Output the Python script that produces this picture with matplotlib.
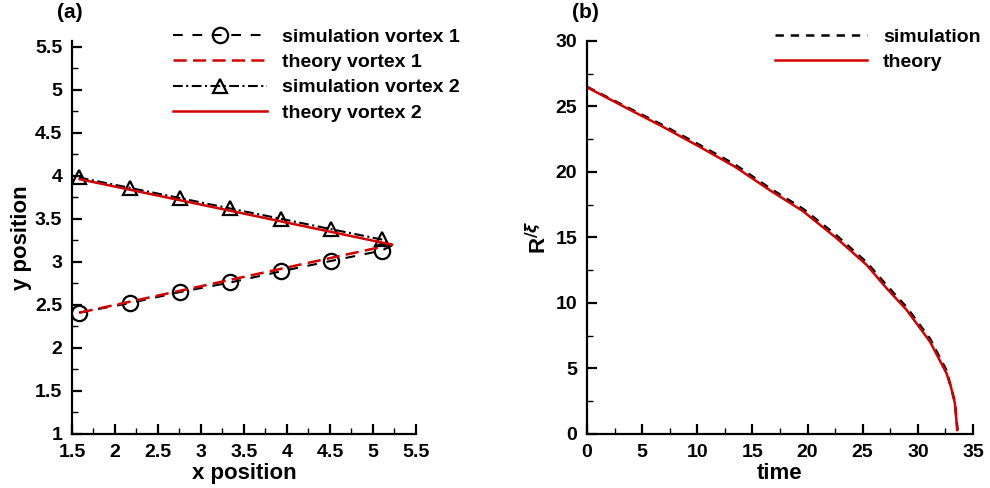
import matplotlib
matplotlib.use("Agg")
import matplotlib.pyplot as plt
from matplotlib.ticker import MultipleLocator

plt.rcParams['font.family'] = ['Liberation Sans', 'DejaVu Sans']
plt.rcParams['font.weight'] = 'bold'
plt.rcParams['lines.scale_dashes'] = False

# (a) vortex positions
sim1_x = [1.58, 2.17, 2.76, 3.34, 3.93, 4.51, 5.10, 5.22]
sim1_y = [2.41, 2.52, 2.65, 2.76, 2.89, 3.01, 3.13, 3.19]
sim2_x = [1.58, 2.17, 2.76, 3.34, 3.93, 4.51, 5.10, 5.22]
sim2_y = [3.98, 3.86, 3.74, 3.62, 3.50, 3.38, 3.26, 3.20]
th1_x = [1.59, 5.22]
th1_y = [2.41, 3.20]
th2_x = [1.59, 5.22]
th2_y = [3.96, 3.20]

# (b) ring radius vs time
sim_t = [0, 3.45, 6.77, 10.09, 13.42, 16.6, 19.6, 22.64, 25.36, 27.17, 28.98, 31.1, 32.6, 33.36, 33.6]
sim_R = [26.5, 25.02, 23.62, 22.12, 20.57, 18.75, 17.18, 15.15, 13.1, 11.35, 9.68, 7.28, 4.85, 2.45, 0.3]
th_t = [0, 3.45, 6.77, 10.09, 13.42, 16.6, 19.6, 22.64, 25.36, 27.17, 28.98, 31.1, 32.6, 33.0, 33.36, 33.57]
th_R = [26.47, 24.94, 23.5, 21.98, 20.4, 18.6, 17.0, 14.94, 12.9, 11.12, 9.47, 7.05, 4.63, 3.6, 2.34, 0.3]

red = '#d40000'

fig = plt.figure(figsize=(9.9, 4.88), dpi=100)
ax1 = fig.add_axes([0.0727, 0.1107, 0.3475, 0.806])
ax2 = fig.add_axes([0.5929, 0.1107, 0.3899, 0.8053])

ax1.plot(sim1_x, sim1_y, color='black', ls=(0, (7, 7)), lw=1.5, marker='o', ms=11,
         mfc='none', mec='black', mew=1.6, markevery=list(range(7)), label='simulation vortex 1')
ax1.plot(th1_x, th1_y, color=red, ls=(0, (9.5, 4.5)), lw=1.8, label='theory vortex 1')
ax1.plot(sim2_x, sim2_y, color='black', ls=(0, (7, 2.5, 1.5, 2.5)), lw=1.5, marker='^', ms=10,
         mfc='none', mec='black', mew=1.6, markevery=list(range(7)), label='simulation vortex 2')
ax1.plot(th2_x, th2_y, color=red, ls='-', lw=1.8, label='theory vortex 2')

ax2.plot(sim_t, sim_R, color='black', ls=(0, (6, 5)), lw=1.8, label='simulation')
ax2.plot(th_t, th_R, color=red, ls='-', lw=1.8, label='theory')

ax1.set_xlim(1.5, 5.5)
ax1.set_ylim(1, 5.57)
ax1.xaxis.set_minor_locator(MultipleLocator(0.25))
ax1.yaxis.set_minor_locator(MultipleLocator(0.25))
ax1.set_yticks([1, 1.5, 2, 2.5, 3, 3.5, 4, 4.5, 5, 5.5])
ax1.set_yticklabels(['1', '1.5', '2', '2.5', '3', '3.5', '4', '4.5', '5', '5.5'])
ax1.set_xticks([1.5, 2, 2.5, 3, 3.5, 4, 4.5, 5, 5.5])
ax1.set_xticklabels(['1.5', '2', '2.5', '3', '3.5', '4', '4.5', '5', '5.5'])

ax2.set_xlim(0, 35)
ax2.set_ylim(0, 30)
ax2.xaxis.set_major_locator(MultipleLocator(5))
ax2.xaxis.set_minor_locator(MultipleLocator(2.5))
ax2.yaxis.set_major_locator(MultipleLocator(5))
ax2.yaxis.set_minor_locator(MultipleLocator(2.5))

for ax in (ax1, ax2):
    ax.spines['top'].set_visible(False)
    ax.spines['right'].set_visible(False)
    ax.spines['left'].set_linewidth(1.6)
    ax.spines['bottom'].set_linewidth(1.6)
    ax.tick_params(which='major', direction='in', length=7, width=1.6, labelsize=14)
    ax.tick_params(which='minor', direction='in', length=4, width=1.0)
    ax.tick_params(axis='y', which='major', pad=7)
    ax.tick_params(axis='x', which='major', pad=7)
    ax.patch.set_alpha(0)

ax1.set_xlabel('x position', fontsize=16, fontweight='bold', labelpad=2)
ax1.set_ylabel('y position', fontsize=16, fontweight='bold', labelpad=2)
ax2.set_xlabel('time', fontsize=16, fontweight='bold', labelpad=2)
ax2.set_ylabel(r'R$^{/\xi}$', fontsize=16, fontweight='bold', labelpad=3)

ax1.legend(loc='upper left', bbox_to_anchor=(173 / 990, 1 - 28 / 488), bbox_transform=fig.transFigure,
           frameon=False, fontsize=14, handlelength=4.85, handletextpad=0.75, labelspacing=0.4,
           borderaxespad=0, borderpad=0)
ax2.legend(loc='upper left', bbox_to_anchor=(775 / 990, 1 - 28 / 488), bbox_transform=fig.transFigure,
           frameon=False, fontsize=14, handlelength=4.75, handletextpad=0.8, labelspacing=0.4,
           borderaxespad=0, borderpad=0)

fig.text(70 / 990, 1 - 13 / 488, '(a)', ha='center', va='center', fontsize=15, fontweight='bold')
fig.text(585 / 990, 1 - 13 / 488, '(b)', ha='center', va='center', fontsize=15, fontweight='bold')

fig.savefig('out.png', dpi=100)
